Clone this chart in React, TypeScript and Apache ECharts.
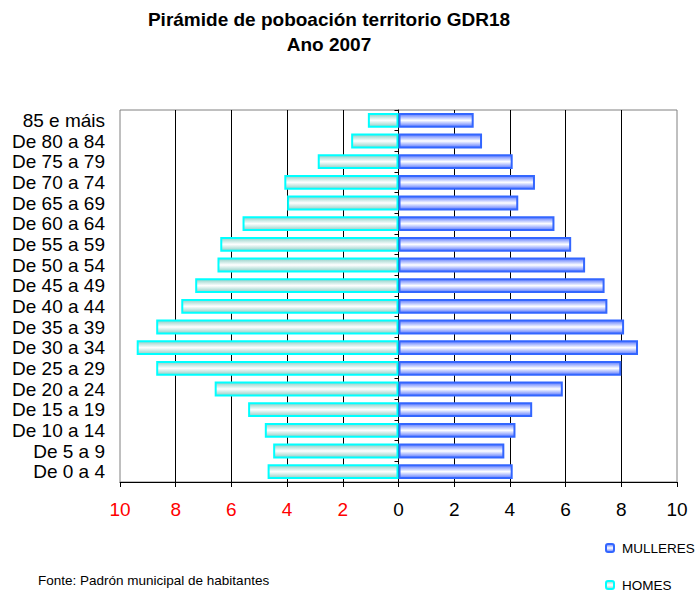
import React, { useEffect, useRef } from "react";
import * as echarts from "echarts";

const categories = [
  "85 e máis", "De 80 a 84", "De 75 a 79", "De 70 a 74", "De 65 a 69", "De 60 a 64",
  "De 55 a 59", "De 50 a 54", "De 45 a 49", "De 40 a 44", "De 35 a 39", "De 30 a 34",
  "De 25 a 29", "De 20 a 24", "De 15 a 19", "De 10 a 14", "De 5 a 9", "De 0 a 4",
];
const mulleres = [2.7, 3.0, 4.1, 4.9, 4.3, 5.6, 6.2, 6.7, 7.4, 7.5, 8.1, 8.6, 8.0, 5.9, 4.8, 4.2, 3.8, 4.1];
const homes = [1.1, 1.7, 2.9, 4.1, 4.0, 5.6, 6.4, 6.5, 7.3, 7.8, 8.7, 9.4, 8.7, 6.6, 5.4, 4.8, 4.5, 4.7];
const titleLines = ["Pirámide de poboación territorio GDR18", "Ano 2007"];
const sourceText = "Fonte: Padrón municipal de habitantes";

const FONT = "'Liberation Sans', Arial, sans-serif";

export default function App() {
  const ref = useRef<HTMLDivElement>(null);
  useEffect(() => {
    if (!ref.current) return;
    const chart = echarts.init(ref.current, null, { renderer: "svg" });
    const homesFill = new echarts.graphic.LinearGradient(0, 0, 0, 1, [
      { offset: 0, color: "#8fcfc6" },
      { offset: 0.5, color: "#ffffff" },
      { offset: 1, color: "#8fcfc6" },
    ]);
    const mulleresFill = new echarts.graphic.LinearGradient(0, 0, 0, 1, [
      { offset: 0, color: "#5a78ff" },
      { offset: 0.5, color: "#ffffff" },
      { offset: 1, color: "#5a78ff" },
    ]);
    const legendText = { fontSize: 13.5, color: "#000", fontFamily: FONT, padding: [0, 0, 0, 3] };
    chart.setOption({
      animation: false,
      textStyle: { fontFamily: FONT },
      title: {
        text: titleLines.join("\n"),
        left: 324,
        top: 2,
        textAlign: "center",
        textStyle: { fontSize: 19, fontWeight: "bold", color: "#000", lineHeight: 25, fontFamily: FONT },
      },
      graphic: [
        {
          type: "text",
          left: 38,
          top: 573,
          style: { text: sourceText, fontSize: 13.5, fill: "#000", fontFamily: FONT },
        },
      ],
      legend: [
        {
          orient: "vertical",
          left: 605,
          top: 541,
          itemWidth: 8,
          itemHeight: 8,
          itemGap: 4,
          padding: 0,
          textStyle: legendText,
          data: ["MULLERES"],
        },
        {
          orient: "vertical",
          left: 605,
          top: 578,
          itemWidth: 8,
          itemHeight: 8,
          itemGap: 4,
          padding: 0,
          textStyle: legendText,
          data: ["HOMES"],
        },
      ],
      grid: {
        left: 120,
        right: 22,
        top: 110,
        bottom: 110,
        show: true,
        borderColor: "#808080",
        borderWidth: 1,
        backgroundColor: "#fff",
      },
      xAxis: {
        type: "value",
        min: -10,
        max: 10,
        interval: 2,
        axisLine: { show: true, onZero: false, lineStyle: { color: "#000", width: 1 } },
        axisTick: { show: true, length: 5, lineStyle: { color: "#000" } },
        splitLine: { show: true, showMinLine: false, showMaxLine: false, lineStyle: { color: "#000", width: 1 } },
        axisLabel: {
          margin: 18,
          fontSize: 19,
          color: "#000",
          fontFamily: FONT,
          formatter: (v: number) => (v < 0 ? `{r|${Math.abs(v)}}` : `${v}`),
          rich: { r: { color: "#ff0000", fontSize: 19, fontFamily: FONT } },
        },
      },
      yAxis: [
        {
          type: "category",
          data: categories,
          inverse: true,
          position: "left",
          axisLine: { show: false, onZero: false },
          axisTick: { show: false },
          axisLabel: { interval: 0, fontSize: 19, color: "#000", margin: 15, fontFamily: FONT },
        },
        {
          type: "category",
          data: categories,
          inverse: true,
          position: "left",
          axisLine: { show: true, onZero: true, lineStyle: { color: "#000", width: 1 } },
          axisTick: { show: true, length: 4, lineStyle: { color: "#000" } },
          axisLabel: { show: false },
        },
      ],
      series: [
        {
          name: "MULLERES",
          type: "bar",
          data: mulleres,
          barWidth: "72%",
          barGap: "-100%",
          itemStyle: { color: mulleresFill, borderColor: "#3366ff", borderWidth: 2 },
          z: 1,
        },
        {
          name: "HOMES",
          type: "bar",
          data: homes.map((v) => -v),
          barWidth: "72%",
          barGap: "-100%",
          itemStyle: { color: homesFill, borderColor: "#00ffff", borderWidth: 2 },
          z: 1,
        },
      ],
    });
    return () => chart.dispose();
  }, []);
  return <div ref={ref} style={{ width: 699, height: 592, position: "absolute", left: 0, top: 0 }} />;
}
